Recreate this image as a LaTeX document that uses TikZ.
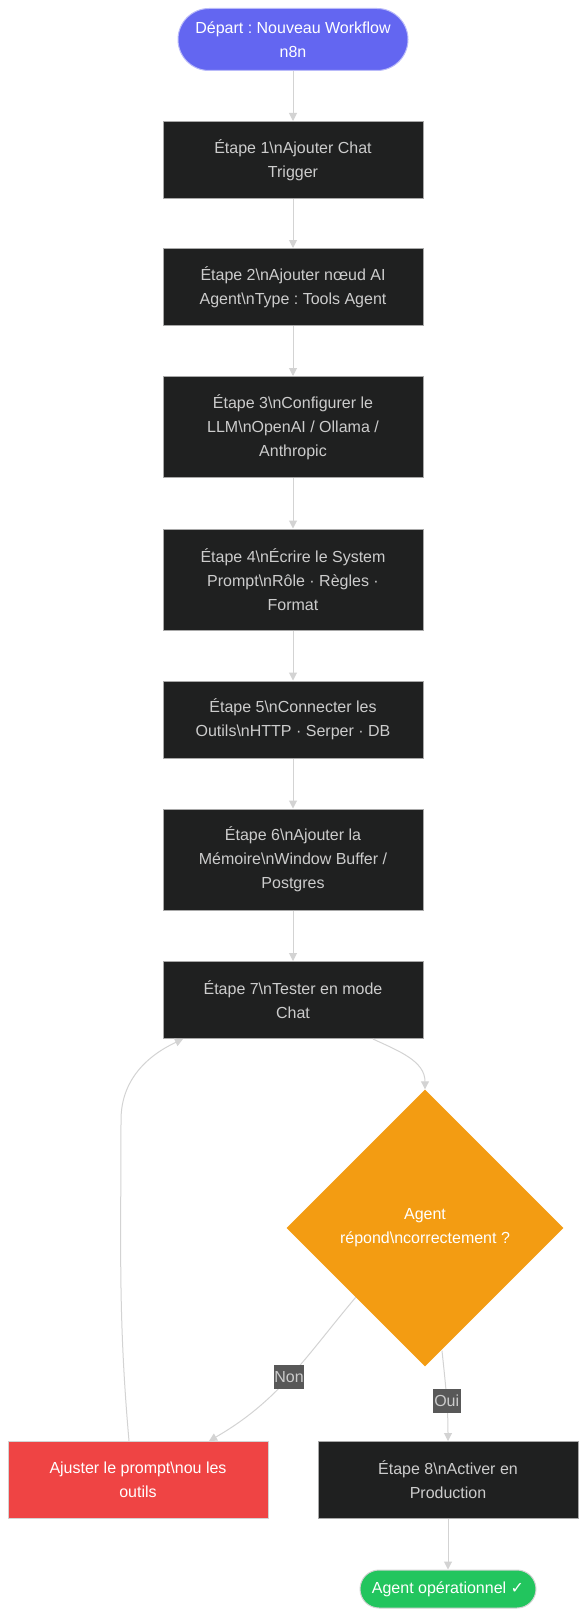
\documentclass[tikz,border=0pt]{standalone}
\usepackage{fontspec}
\setmainfont{Liberation Sans}
\newfontfamily\symfont{DejaVu Sans}
\usetikzlibrary{shapes.geometric,arrows.meta}
\frenchspacing

\definecolor{stepfill}{HTML}{1F2020}
\definecolor{stepline}{HTML}{A8A8A8}
\definecolor{steptext}{HTML}{CCCCCC}
\definecolor{edgecol}{HTML}{D3D3D3}
\definecolor{startfill}{HTML}{6366F1}
\definecolor{askfill}{HTML}{F39C12}
\definecolor{fixfill}{HTML}{EF4444}
\definecolor{donefill}{HTML}{22C55E}
\definecolor{lblfill}{HTML}{585858}

\tikzset{
  txt/.style={font=\fontsize{16}{24}\selectfont,align=center},
  stepbox/.style={txt,rectangle,draw=stepline,fill=stepfill,text=steptext,line width=1pt,minimum width=260pt},
  pill/.style={txt,rectangle,rounded corners=19pt,draw=edgecol,text=white,line width=1pt},
  flow/.style={draw=edgecol,line width=1pt,-{Triangle[length=8pt,width=8pt]}},
  lbl/.style={font=\fontsize{16}{18}\selectfont,fill=lblfill,text=steptext,inner sep=0pt,minimum height=24pt,minimum width=28pt}
}

\begin{document}
\begin{tikzpicture}[x=1pt,y=-1pt]
\useasboundingbox (0,0) rectangle (586,1616);

\node (st) at (293,39.5) [pill,fill=startfill,draw=startfill!45!white,rounded corners=31pt,minimum width=230pt,minimum height=62pt] {Départ : Nouveau Workflow\\n8n};

\node (s1) at (293,160) [stepbox,minimum height=77pt] {Étape 1\textbackslash nAjouter Chat\\Trigger};
\node (s2) at (293,287) [stepbox,minimum height=77pt] {Étape 2\textbackslash nAjouter nœud AI\\Agent\textbackslash nType : Tools Agent};
\node (s3) at (293,427) [stepbox,minimum height=101pt] {Étape 3\textbackslash nConfigurer le\\LLM\textbackslash nOpenAI / Ollama /\\Anthropic};
\node (s4) at (293,579.5) [stepbox,minimum height=101pt] {Étape 4\textbackslash nÉcrire le System\\Prompt\textbackslash nRôle · Règles ·\\Format};
\node (s5) at (293,719.5) [stepbox,minimum height=77pt] {Étape 5\textbackslash nConnecter les\\Outils\textbackslash nHTTP · Serper · DB};
\node (s6) at (293,859.5) [stepbox,minimum height=101pt] {Étape 6\textbackslash nAjouter la\\Mémoire\textbackslash nWindow Buffer /\\Postgres};
\node (s7) at (293,1000) [stepbox,minimum height=77pt] {Étape 7\textbackslash nTester en mode\\Chat};

\node (ask) at (425,1228) [txt,diamond,aspect=1,fill=askfill,text=white,inner sep=0pt,minimum width=277pt,minimum height=277pt] {Agent\\répond\textbackslash ncorrectement ?};

\node (fix) at (138,1480) [txt,rectangle,fill=fixfill,draw=edgecol,text=white,line width=1pt,minimum width=260pt,minimum height=77pt] {Ajuster le prompt\textbackslash nou les\\outils};
\node (s8) at (448,1480) [stepbox,minimum height=77pt] {Étape 8\textbackslash nActiver en\\Production};
\node (done) at (448,1589) [pill,fill=donefill,minimum width=176pt,minimum height=38pt] {Agent opérationnel {\symfont ✓}};

\coordinate (back) at (121,1120);

\draw [flow] (st) -- (s1);
\draw [flow] (s1) -- (s2);
\draw [flow] (s2) -- (s3);
\draw [flow] (s3) -- (s4);
\draw [flow] (s4) -- (s5);
\draw [flow] (s5) -- (s6);
\draw [flow] (s6) -- (s7);
\draw [flow] ([xshift=80pt]s7.south) to[out=-25,in=90] (ask.north);
\draw [flow] (ask.south west) to[out=-130,in=30] node[lbl,pos=0.5] {Non} ([xshift=71pt]fix.north);
\draw [flow] ([xshift=17pt,yshift=16pt]ask.south) to[out=-84,in=90] node[lbl,pos=0.56] {Oui} (s8.north);
\draw [flow] ([xshift=-9pt]fix.north) to[out=95,in=-90] (back) to[out=90,in=-155] ([xshift=-110pt]s7.south);
\draw [flow] (s8) -- (done);

\end{tikzpicture}
\end{document}
